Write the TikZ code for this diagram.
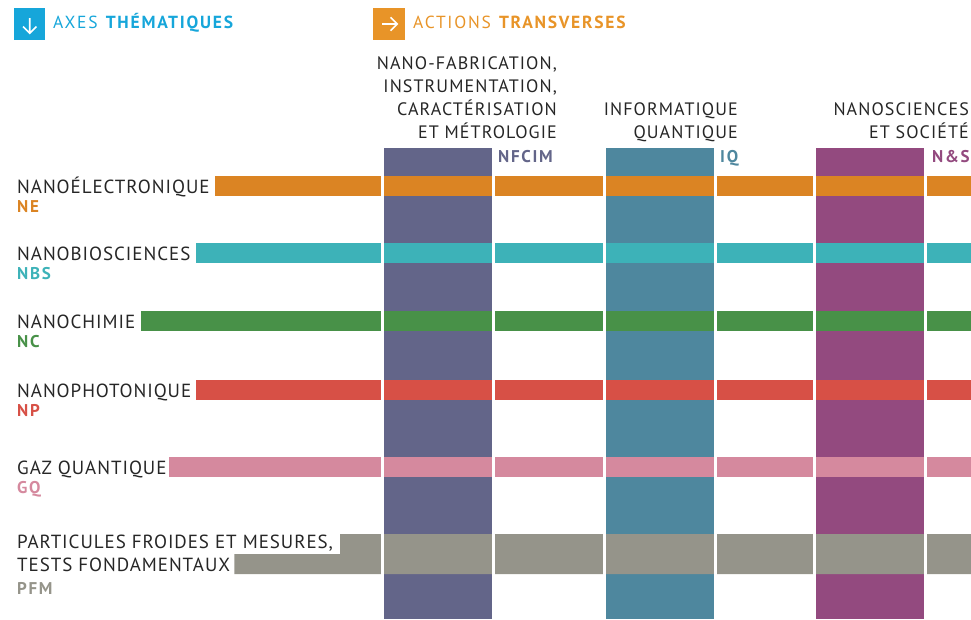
\documentclass[tikz,border=0pt]{standalone}
\usepackage{fontspec}
\setmainfont{PT Sans}
\usepackage{tikz}
\definecolor{txt}{RGB}{38,38,38}
\definecolor{axesC}{RGB}{22,166,218}
\definecolor{actC}{RGB}{232,148,40}
\definecolor{neC}{RGB}{219,132,35}
\definecolor{nbsC}{RGB}{61,178,184}
\definecolor{ncC}{RGB}{72,145,72}
\definecolor{npC}{RGB}{215,80,70}
\definecolor{gqC}{RGB}{213,137,158}
\definecolor{pfmC}{RGB}{149,148,138}
\definecolor{nfcimC}{RGB}{99,101,137}
\definecolor{iqC}{RGB}{78,135,158}
\definecolor{nsC}{RGB}{147,74,127}
\tikzstyle{title} = [anchor=base west,inner sep=0,font=\fontsize{17.5}{20}\selectfont\addfontfeature{LetterSpace=10}]
\tikzstyle{axe} = [anchor=base west,inner sep=0,font=\fontsize{19}{22}\selectfont\addfontfeature{LetterSpace=5},text=txt]
\tikzstyle{code} = [anchor=base west,inner sep=0,font=\fontsize{17}{19}\selectfont\bfseries\addfontfeature{LetterSpace=10}]
\tikzstyle{head} = [anchor=north east,inner sep=0,align=right,font=\fontsize{18}{23}\selectfont\addfontfeature{LetterSpace=6},text=txt]
\tikzstyle{gap} = [fill=white]

\begin{document}
\begin{tikzpicture}[x=1pt,y=-1pt]
          \useasboundingbox (0,0) rectangle (971,619);
          % titres
          \fill[axesC] (14,8) rectangle (45,40);
          \draw[white,line width=1.6] (29.7,18) -- (29.7,33) (23,26.5) -- (29.7,33.2) -- (36.4,26.5);
          \node[title,text=axesC] (axes) at (53,28) {AXES \textbf{THÉMATIQUES}};
          \fill[actC] (373,8) rectangle (405,40);
          \draw[white,line width=1.6] (382,24) -- (397,24) (390.5,17.3) -- (397.2,24) -- (390.5,30.7);
          \node[title,text=actC] (actions) at (413,28) {ACTIONS \textbf{TRANSVERSES}};

          % actions transverses
          \fill[nfcimC] (384,148) rectangle (492,619);
          \fill[iqC] (606,148) rectangle (714,619);
          \fill[nsC] (816,148) rectangle (924,619);
          \node[head] (nfcimH) at (557,56) {NANO-FABRICATION,\\INSTRUMENTATION,\\CARACTÉRISATION\\ET MÉTROLOGIE};
          \node[head] (iqH) at (738,102) {INFORMATIQUE\\QUANTIQUE};
          \node[head] (nsH) at (969,102) {NANOSCIENCES\\ET SOCIÉTÉ};
          \node[code,text=nfcimC] (nfcim) at (498,162) {NFCIM};
          \node[code,text=iqC] (iq) at (720,162) {IQ};
          \node[code,text=nsC] (ns) at (932,162) {N\&S};

          % axes thematiques
          \node[axe] (ne) at (17,193) {NANOÉLECTRONIQUE};
          \node[code,text=neC] (neCode) at (17,212) {NE};
          \node[axe] (nbs) at (17,260) {NANOBIOSCIENCES};
          \node[code,text=nbsC] (nbsCode) at (17,279) {NBS};
          \node[axe] (nc) at (17,328) {NANOCHIMIE};
          \node[code,text=ncC] (ncCode) at (17,347) {NC};
          \node[axe] (np) at (17,397) {NANOPHOTONIQUE};
          \node[code,text=npC] (npCode) at (17,416) {NP};
          \node[axe] (gq) at (17,474) {GAZ QUANTIQUE};
          \node[code,text=gqC] (gqCode) at (17,493) {GQ};
          \node[axe] (pfmA) at (17,548) {PARTICULES FROIDES ET MESURES,};
          \node[axe] (pfmB) at (17,571) {TESTS FONDAMENTAUX};
          \node[code,text=pfmC] (pfmCode) at (17,594) {PFM};

          \coordinate (neS) at ([xshift=5]ne.east);
          \coordinate (nbsS) at ([xshift=5]nbs.east);
          \coordinate (ncS) at ([xshift=5]nc.east);
          \coordinate (npS) at ([xshift=5]np.east);
          \coordinate (gqS) at ([xshift=2]gq.east);
          \coordinate (pfmAS) at ([xshift=7]pfmA.east);
          \coordinate (pfmBS) at ([xshift=4]pfmB.east);
          \fill[neC] (neS |- 0,176) rectangle (971,196);
          \fill[nbsC] (nbsS |- 0,243) rectangle (971,263);
          \fill[ncC] (ncS |- 0,311) rectangle (971,331);
          \fill[npC] (npS |- 0,380) rectangle (971,400);
          \fill[gqC] (gqS |- 0,457) rectangle (971,477);
          \fill[pfmC] (pfmBS |- 0,574) -- (pfmBS |- 0,554) -- (pfmAS |- 0,554) -- (pfmAS |- 0,534)
                      -- (971,534) -- (971,574) -- cycle;

          % espaces blancs
          \fill[gap] (381,170) rectangle (384,619);
          \fill[gap] (492,170) rectangle (495,619);
          \fill[gap] (603,170) rectangle (606,619);
          \fill[gap] (714,170) rectangle (717,619);
          \fill[gap] (813,170) rectangle (816,619);
          \fill[gap] (924,170) rectangle (927,619);
        \end{tikzpicture}
\end{document}
